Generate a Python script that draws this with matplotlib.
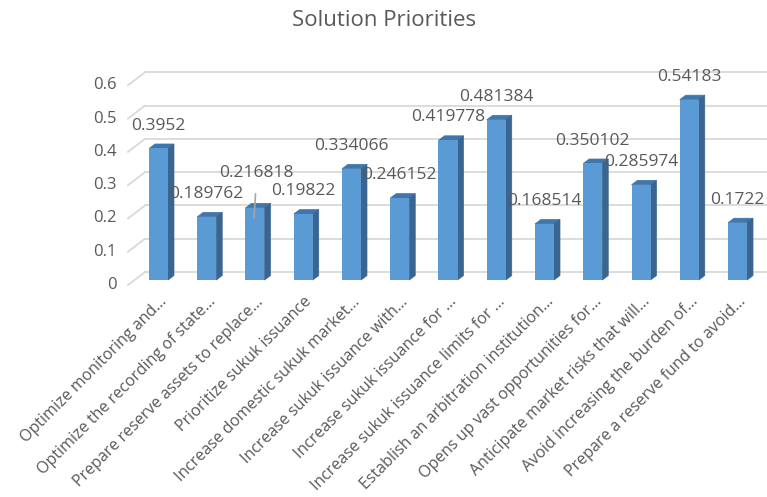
import numpy as np
import matplotlib.pyplot as plt
from matplotlib.patches import Polygon

plt.rcParams['font.family'] = ['Open Sans', 'DejaVu Sans']

labels = ["Optimize monitoring and...", "Optimize the recording of state...",
          "Prepare reserve assets to replace...", "Prioritize sukuk issuance",
          "Increase domestic sukuk market...", "Increase sukuk issuance with...",
          "Increase sukuk issuance for ...", "Increase sukuk issuance limits for ...",
          "Establish an arbitration institution...", "Opens up vast opportunities for...",
          "Anticipate market risks that will...", "Avoid increasing the burden of...",
          "Prepare a reserve fund to avoid..."]
values = [0.3952, 0.189762, 0.216818, 0.19822, 0.334066, 0.246152, 0.419778,
          0.481384, 0.168514, 0.350102, 0.285974, 0.54183, 0.1722]
value_text = ["0.3952", "0.189762", "0.216818", "0.19822", "0.334066", "0.246152",
              "0.419778", "0.481384", "0.168514", "0.350102", "0.285974", "0.54183", "0.1722"]
yticks = [0, 0.1, 0.2, 0.3, 0.4, 0.5, 0.6]

W, H = 767, 497
fig = plt.figure(figsize=(W / 100, H / 100), dpi=100)
# axes in pixel box: x 118..767, y 60..300
ax = fig.add_axes([118 / W, 1 - 300 / H, (767 - 118) / W, 240 / H])
ax.set_xlim(-0.839, 12.611)
ax.set_ylim(-0.045, 0.676)
ax.axis('off')

text_c = '#595959'
grid_c = '#d9d9d9'

# 3d-ish offsets (data units)
wall_dx, wall_dy = 0.352, 0.039
bar_dy = 0.015
dep_dx, dep_dy = 0.124, 0.0135
bw = 0.394

# walls / gridlines
for t in yticks:
    ax.plot([-0.632, -0.632 + wall_dx], [t, t + wall_dy], color=grid_c, lw=1.3, zorder=1)
    ax.plot([-0.632 + wall_dx, 12.58], [t + wall_dy, t + wall_dy], color=grid_c, lw=1.3, zorder=1)
    ax.text(-0.87, t, f"{t:g}", ha='right', va='center', fontsize=12, color=text_c)

x = np.arange(len(values))
for xi, v in zip(x, values):
    l, r = xi - bw / 2, xi + bw / 2
    top = v + bar_dy
    ax.add_patch(Polygon([(l, top), (r, top), (r + dep_dx, top + dep_dy), (l + dep_dx, top + dep_dy)],
                         closed=True, fc='#3f77ad', ec='#3f77ad', lw=0.5, zorder=2))
    ax.add_patch(Polygon([(r, bar_dy), (r, top), (r + dep_dx, top + dep_dy), (r + dep_dx, bar_dy + dep_dy)],
                         closed=True, fc='#3a6590', ec='#3a6590', lw=0.5, zorder=2))
ax.bar(x, values, width=bw, bottom=bar_dy, color='#5b9bd5', zorder=3)

for i, (xi, v, s) in enumerate(zip(x, values, value_text)):
    if i == 2:
        # label pushed up, with a leader line
        ax.annotate(s, xy=(xi - 0.02, v + bar_dy - 0.03), xytext=(2, 32), textcoords='offset points',
                    ha='center', va='center', fontsize=12.5, color=text_c, zorder=5,
                    arrowprops=dict(arrowstyle='-', color='#a6a6a6', lw=1.2, shrinkA=7, shrinkB=0))
    else:
        ax.annotate(s, xy=(xi, v + bar_dy), xytext=(0, 16.5), textcoords='offset points',
                    ha='center', va='center', fontsize=12.5, color=text_c, zorder=5)

for xi, lab in zip(x, labels):
    ax.text(xi + 0.13, -0.043, lab, rotation=45, rotation_mode='anchor', ha='right', va='center',
            fontsize=11.5, color=text_c)

fig.text(384 / W, 1 - 21 / H, "Solution Priorities", ha='center', va='center',
         fontsize=16, color=text_c)

fig.savefig('out.png', dpi=100)
